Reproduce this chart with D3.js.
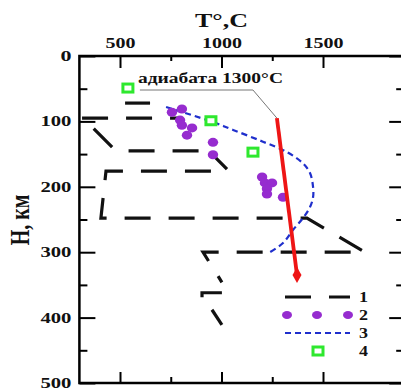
<!DOCTYPE html>
<html>
<head>
<meta charset="utf-8">
<script src="https://cdn.jsdelivr.net/npm/d3@7"></script>
<style>
  body { margin: 0; background: #fff; }
  svg { display: block; }
</style>
</head>
<body>
<div id="chart"></div>
<script>
// ---- data (T in °C, H in km) ----
const xTicksMajor = [500, 1000, 1500];
const xTicksMinor = [750, 1250];
const yTicksMajor = [0, 100, 200, 300, 400, 500];
const yTicksMinor = [50, 150, 250, 350, 450];

// 1: long-dash boundaries
const line1Paths = [
    [[525, 72], [648, 72]],
    [[786, 95], [308, 95]],
    [[318, 95], [480, 145], [938, 145], [1027, 173]],
    [[948, 176], [431, 176], [406, 248], [1421, 248], [1707, 300], [909, 300], [1002, 346]],
    [[1002, 362], [904, 362], [904, 369]],
    [[953, 388], [1002, 411]]
];
const line1Offsets = [0, 18, 29, 0, 0, 0];

// 2: xenolith points
const points2 = [
    [756, 86], [805, 81], [796, 98], [805, 106], [855, 110], [830, 121],
    [958, 132], [958, 151],
    [1200, 185], [1214, 194], [1249, 194], [1224, 203], [1224, 211], [1303, 216]
];

// 3: geotherm
const curve3 = [
    [727, 78], [958, 101], [1057, 113], [1204, 131], [1323, 147], [1401, 164],
    [1436, 179], [1451, 200], [1451, 216], [1436, 231], [1401, 248], [1352, 266],
    [1303, 286], [1239, 300]
];

// 4: squares
const squares4 = [[539, 49], [948, 99], [1155, 147]];

// adiabat 1300°C
const adiabat = [[1273, 95], [1372, 335]];
const adiabatLeader = [[598, 52], [1155, 52], [1273, 95]];
const adiabatLabel = 'адиабата 1300°C';

const legendLabels = ['1', '2', '3', '4'];

// ---- layout ----
const width = 401, height = 390;
const serif = '"Liberation Serif", "Times New Roman", serif';

const x = d3.scaleLinear().domain([300, 1900]).range([79.4, 404.2]);
const y = d3.scaleLinear().domain([0, 500]).range([56, 383]);

const svg = d3.select('#chart')
    .append('svg')
    .attr('width', width)
    .attr('height', height);

// axes (ticks point inward)
function styleAxis(g) {
    g.select('.domain').remove();
    g.selectAll('.tick line').attr('stroke', '#000').attr('stroke-width', 2);
    g.selectAll('text')
        .attr('fill', '#111')
        .style('font-family', serif)
        .style('font-weight', 'bold')
        .style('font-size', '14px');
}

svg.append('g')
    .attr('transform', `translate(0,${y(0)})`)
    .call(d3.axisTop(x).tickValues(xTicksMajor).tickFormat(d3.format('d')).tickSize(-12).tickPadding(8))
    .call(styleAxis)
    .selectAll('text')
    .attr('textLength', d => String(d).length * 10)
    .attr('lengthAdjust', 'spacingAndGlyphs');

svg.append('g')
    .attr('transform', `translate(0,${y(0)})`)
    .call(d3.axisTop(x).tickValues(xTicksMinor).tickSize(-5).tickFormat(''))
    .call(styleAxis);

svg.append('g')
    .attr('transform', `translate(0,${y(500)})`)
    .call(d3.axisBottom(x).tickValues(xTicksMajor).tickSize(-11).tickFormat(''))
    .call(styleAxis);

svg.append('g')
    .attr('transform', `translate(0,${y(500)})`)
    .call(d3.axisBottom(x).tickValues(xTicksMinor).tickSize(-6).tickFormat(''))
    .call(styleAxis);

svg.append('g')
    .attr('transform', `translate(${x(300)},0)`)
    .call(d3.axisLeft(y).tickValues(yTicksMajor).tickFormat(d3.format('d')).tickSize(-16).tickPadding(8))
    .call(styleAxis)
    .selectAll('text')
    .attr('textLength', d => String(d).length * 10 + 1)
    .attr('lengthAdjust', 'spacingAndGlyphs');

svg.append('g')
    .attr('transform', `translate(${x(300)},0)`)
    .call(d3.axisLeft(y).tickValues(yTicksMinor).tickSize(-8).tickFormat(''))
    .call(styleAxis);

svg.append('g')
    .attr('transform', `translate(${x(1900)},0)`)
    .call(d3.axisRight(y).tickValues(yTicksMajor).tickSize(-15).tickFormat(''))
    .call(styleAxis);

svg.append('g')
    .attr('transform', `translate(${x(1900)},0)`)
    .call(d3.axisRight(y).tickValues(yTicksMinor).tickSize(-8).tickFormat(''))
    .call(styleAxis);

// frame
svg.append('rect')
    .attr('x', x(300))
    .attr('y', y(0))
    .attr('width', x(1900) - x(300))
    .attr('height', y(500) - y(0))
    .attr('fill', 'none')
    .attr('stroke', '#000')
    .attr('stroke-width', 2.5);

// titles
svg.append('text')
    .attr('x', x(1000))
    .attr('y', 27)
    .attr('text-anchor', 'middle')
    .attr('textLength', 53)
    .attr('lengthAdjust', 'spacingAndGlyphs')
    .style('font-family', serif)
    .style('font-weight', 'bold')
    .style('font-size', '19px')
    .attr('fill', '#111')
    .text('T°,C');

svg.append('text')
    .attr('transform', 'translate(29,220) scale(1.35,1) rotate(-90)')
    .attr('text-anchor', 'middle')
    .style('font-family', serif)
    .style('font-weight', 'bold')
    .style('font-size', '20px')
    .attr('fill', '#111')
    .text('H, км');

const line = d3.line().x(d => x(d[0])).y(d => y(d[1]));

// 1: dashed boundaries
svg.append('g')
    .selectAll('path')
    .data(line1Paths)
    .join('path')
    .attr('d', line)
    .attr('fill', 'none')
    .attr('stroke', '#111')
    .attr('stroke-width', 3.2)
    .attr('stroke-dasharray', '26,18')
    .attr('stroke-dashoffset', (d, i) => line1Offsets[i]);

// 3: geotherm
svg.append('path')
    .datum(curve3)
    .attr('d', line.curve(d3.curveCatmullRom))
    .attr('fill', 'none')
    .attr('stroke', '#1f2fcc')
    .attr('stroke-width', 2.2)
    .attr('stroke-dasharray', '6,4');
line.curve(d3.curveLinear);

// 2: points
svg.append('g')
    .selectAll('ellipse')
    .data(points2)
    .join('ellipse')
    .attr('cx', d => x(d[0]))
    .attr('cy', d => y(d[1]))
    .attr('rx', 5.2)
    .attr('ry', 4.5)
    .attr('fill', '#962ccf');

// adiabat with leader line and label
svg.append('path')
    .datum(adiabatLeader)
    .attr('d', line)
    .attr('fill', 'none')
    .attr('stroke', '#777')
    .attr('stroke-width', 1);

svg.append('path')
    .datum(adiabat)
    .attr('d', line)
    .attr('fill', 'none')
    .attr('stroke', '#ee1515')
    .attr('stroke-width', 3.8);

const aEnd = adiabat[adiabat.length - 1];
svg.append('path')
    .attr('transform', `translate(${x(aEnd[0])},${y(aEnd[1])})`)
    .attr('d', d3.symbol(d3.symbolDiamond).size(70))
    .attr('fill', '#ee1515');

svg.append('text')
    .attr('x', 138)
    .attr('y', 83)
    .attr('textLength', 145)
    .attr('lengthAdjust', 'spacingAndGlyphs')
    .style('font-family', serif)
    .style('font-weight', 'bold')
    .style('font-size', '15px')
    .attr('fill', '#111')
    .text(adiabatLabel);

// 4: squares
svg.append('g')
    .selectAll('rect')
    .data(squares4)
    .join('rect')
    .attr('x', d => x(d[0]) - 5)
    .attr('y', d => y(d[1]) - 4)
    .attr('width', 10)
    .attr('height', 8)
    .attr('fill', '#fff')
    .attr('stroke', '#2ee82e')
    .attr('stroke-width', 3);

// legend
const lg = svg.append('g');
const lx0 = 285, lx1 = 350, ly = [297, 315, 333, 351];

lg.append('line')
    .attr('x1', lx0).attr('x2', lx1).attr('y1', ly[0]).attr('y2', ly[0])
    .attr('stroke', '#111').attr('stroke-width', 3.2).attr('stroke-dasharray', '26,18');

lg.selectAll('ellipse')
    .data([287, 317, 348])
    .join('ellipse')
    .attr('cx', d => d).attr('cy', ly[1])
    .attr('rx', 5).attr('ry', 4)
    .attr('fill', '#962ccf');

lg.append('line')
    .attr('x1', lx0).attr('x2', lx1).attr('y1', ly[2]).attr('y2', ly[2])
    .attr('stroke', '#1f2fcc').attr('stroke-width', 2).attr('stroke-dasharray', '6,4');

lg.append('rect')
    .attr('x', 313).attr('y', ly[3] - 4).attr('width', 10).attr('height', 8)
    .attr('fill', '#fff').attr('stroke', '#2ee82e').attr('stroke-width', 3);

lg.selectAll('text')
    .data(legendLabels)
    .join('text')
    .attr('x', 359)
    .attr('y', (d, i) => ly[i] + 5)
    .attr('textLength', 9)
    .attr('lengthAdjust', 'spacingAndGlyphs')
    .style('font-family', serif)
    .style('font-weight', 'bold')
    .style('font-size', '14px')
    .attr('fill', '#111')
    .text(d => d);
</script>
</body>
</html>
